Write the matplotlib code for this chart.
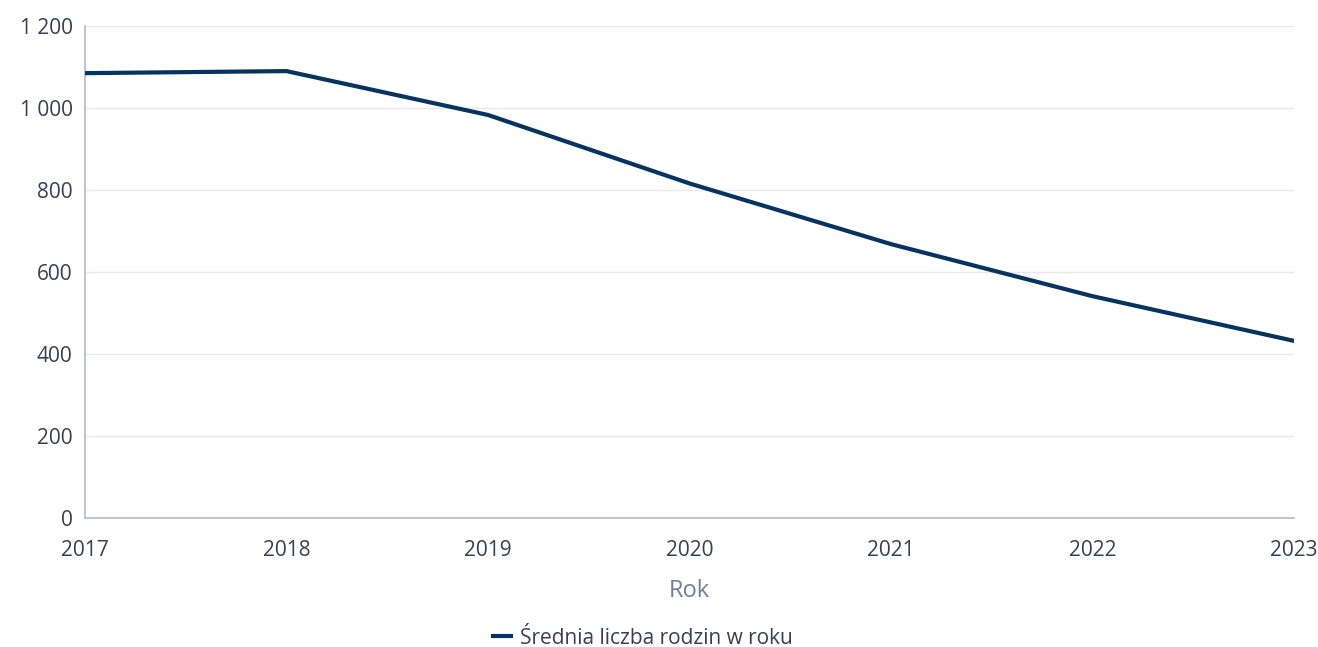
import matplotlib
matplotlib.use("Agg")
import matplotlib.pyplot as plt
from matplotlib.ticker import FuncFormatter

years = [2017, 2018, 2019, 2020, 2021, 2022, 2023]
families = [1085, 1090, 983, 816, 668, 541, 432]
series_label = "Średnia liczba rodzin w roku"
x_title = "Rok"

plt.rcParams['font.family'] = ['Open Sans', 'DejaVu Sans']

fig = plt.figure(figsize=(13.18, 6.47), dpi=100)
ax = fig.add_axes([85/1318, 1-518/647, (1294-85)/1318, (518-26)/647])

line_color = "#06335f"
ax.plot(years, families, color=line_color, lw=3.0, solid_joinstyle='round',
        label=series_label, zorder=3)

ax.set_xlim(2017, 2023)
ax.set_ylim(0, 1200)
ax.set_yticks([0, 200, 400, 600, 800, 1000, 1200])
ax.set_xticks(years)
ax.yaxis.set_major_formatter(FuncFormatter(lambda v, p: f"{int(v):,}".replace(",", " ")))

ax.grid(axis='y', color="#e8e8ef", lw=1)
ax.set_axisbelow(True)
for s in ['top', 'right']:
    ax.spines[s].set_visible(False)
for s in ['left', 'bottom']:
    ax.spines[s].set_color("#b4b8cf")
    ax.spines[s].set_linewidth(1.2)

ax.tick_params(axis='both', length=0, labelsize=15, colors="#3b3d55")
ax.tick_params(axis='x', pad=16)
ax.tick_params(axis='y', pad=9)

ax.set_xlabel(x_title, fontsize=17, color="#777c9c", labelpad=13)

fig.legend(loc='center', bbox_to_anchor=(643/1318, 1-638/647), frameon=False,
           fontsize=15, labelcolor="#3b3d55", handlelength=0.87, handletextpad=0.45)

fig.savefig("out.png", dpi=100, facecolor="white")
